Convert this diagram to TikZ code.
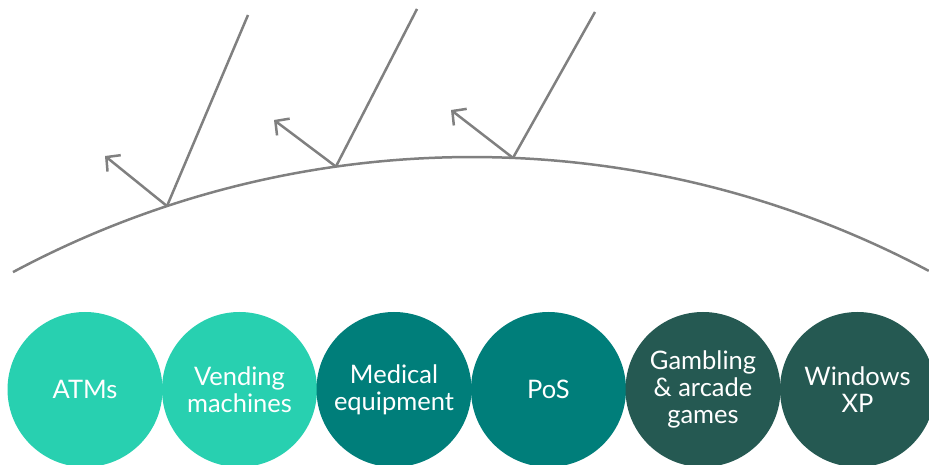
\documentclass[tikz,border=0pt]{standalone}
\usepackage{fontspec}
\setmainfont{Lato}
\usetikzlibrary{arrows.meta,calc}
\definecolor{lightteal}{RGB}{40,208,176}
\definecolor{midteal}{RGB}{0,126,122}
\definecolor{darkgreen}{RGB}{37,89,82}
\definecolor{raygray}{RGB}{128,128,128}
\begin{document}
\begin{tikzpicture}[x=1pt,y=1pt,
  disc/.style={circle, minimum size=155pt, inner sep=0pt, text=white,
    align=center, font=\fontsize{25.5}{27}\selectfont},
  ray/.style={draw=raygray, line width=2.5pt},
  refl/.style={draw=raygray, line width=2.5pt, -{Straight Barb[length=10pt,width=21pt,line width=2.5pt]}}]
\useasboundingbox (0,0) rectangle (929,465);
% surface
\coordinate (c) at (472,-665);
\draw[raygray, line width=2.5pt] ($(c)+(118.15:973)$) arc[start angle=118.15, end angle=62.0, radius=973];
% hit points
\coordinate (h1) at ($(c)+(108.27:973)$);
\coordinate (h2) at ($(c)+(98.04:973)$);
\coordinate (h3) at ($(c)+(87.585:973)$);
% ray sources
\coordinate (t1) at (248,450);
\coordinate (t2) at (417,456);
\coordinate (t3) at (595,453);
% reflected tips
\coordinate (a1) at (105,309);
\coordinate (a2) at (274,345);
\coordinate (a3) at (451,355);
\draw[ray] (t1) -- (h1);
\draw[ray] (t2) -- (h2);
\draw[ray] (t3) -- (h3);
\draw[refl] (h1) -- (a1);
\draw[refl] (h2) -- (a2);
\draw[refl] (h3) -- (a3);
% discs
\node[disc, fill=lightteal] (atm) at (85,75.5) {ATMs};
\node[disc, fill=lightteal] (vend) at (239.5,75.5) {Vending\\machines};
\node[disc, fill=midteal] (med) at (394,75.5) {Medical\\equipment};
\node[disc, fill=midteal] (pos) at (548.5,75.5) {PoS};
\node[disc, fill=darkgreen] (gamb) at (703,75.5) {Gambling\\\& arcade\\games};
\node[disc, fill=darkgreen] (winxp) at (857.5,75.5) {Windows\\XP};
\end{tikzpicture}
\end{document}
